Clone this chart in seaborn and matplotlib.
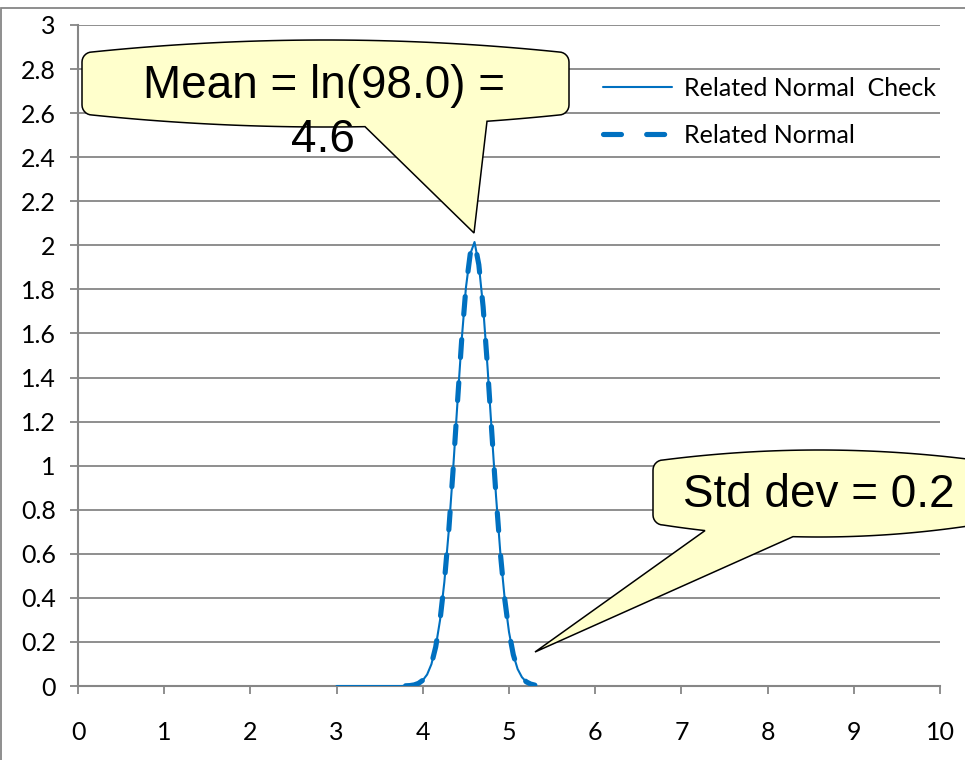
import numpy as np
import pandas as pd
import matplotlib
matplotlib.use("Agg")
import matplotlib.pyplot as plt
from matplotlib.patches import Polygon, Rectangle
import seaborn as sns

# ---- data ----
x_check = [3.0, 3.25, 3.5, 3.75, 3.80, 3.85, 3.90, 3.95, 4.00, 4.05, 4.10, 4.15, 4.20, 4.25,
           4.30, 4.35, 4.40, 4.45, 4.50, 4.55, 4.60, 4.65, 4.70, 4.75, 4.80, 4.85,
           4.90, 4.95, 5.00, 5.05, 5.10, 5.15, 5.20, 5.25, 5.30]
y_check = [0.0, 0.0, 0.0, 0.0, 0.001, 0.002, 0.005, 0.012, 0.026, 0.052, 0.099, 0.178, 0.299, 0.472,
           0.699, 0.973, 1.274, 1.565, 1.807, 1.960, 2.015, 1.912, 1.720, 1.452, 1.153, 0.859,
           0.602, 0.396, 0.245, 0.142, 0.077, 0.040, 0.019, 0.009, 0.004]
x_related = [3.80, 3.85, 3.90, 3.95, 4.00, 4.05, 4.10, 4.15, 4.20, 4.25,
             4.30, 4.35, 4.40, 4.45, 4.50, 4.55, 4.60, 4.65, 4.70, 4.75, 4.80, 4.85,
             4.90, 4.95, 5.00, 5.05, 5.10, 5.15, 5.20, 5.25, 5.30]
y_related = [0.001, 0.002, 0.005, 0.012, 0.026, 0.052, 0.099, 0.178, 0.299, 0.472,
             0.699, 0.973, 1.274, 1.565, 1.807, 1.960, 2.015, 1.912, 1.720, 1.452, 1.153, 0.859,
             0.602, 0.396, 0.245, 0.142, 0.077, 0.040, 0.019, 0.009, 0.004]
series_names = ["Related Normal  Check", "Related Normal"]
x_ticks = [0, 1, 2, 3, 4, 5, 6, 7, 8, 9, 10]
y_ticks = [0, 0.2, 0.4, 0.6, 0.8, 1, 1.2, 1.4, 1.6, 1.8, 2, 2.2, 2.4, 2.6, 2.8, 3]
mean_text = ["Mean = ln(98.0) =", "4.6"]
std_text = "Std dev = 0.2"

# ---- style ----
sns.set_theme(style="white")
plt.rcParams["font.family"] = ["Lato", "DejaVu Sans"]
plt.rcParams["text.color"] = "black"

W, H = 965, 760
fig = plt.figure(figsize=(W / 100, H / 100), dpi=100)
L, R, B, T = 78, 940, 686, 25
ax = fig.add_axes([L / W, (H - B) / H, (R - L) / W, (B - T) / H])

GRAY = "#868686"
BLUE = "#0070C0"

df_check = pd.DataFrame({"x": x_check, "y": y_check})
df_rel = pd.DataFrame({"x": x_related, "y": y_related})

sns.lineplot(data=df_check, x="x", y="y", ax=ax, color=BLUE, linewidth=1.5,
             label=series_names[0], sort=False, estimator=None, zorder=3)
sns.lineplot(data=df_rel, x="x", y="y", ax=ax, color=BLUE, linewidth=3.7,
             label=series_names[1], sort=False, estimator=None, zorder=4)
dl = ax.get_lines()[1]
dl.set_linestyle((0, (3.5, 4.9)))
dl.set_dash_capstyle("round")

ax.set_xlim(0, 10)
ax.set_ylim(0, 3)
ax.set_xticks(x_ticks)
ax.set_xticklabels([f"{v:g}" for v in x_ticks])
ax.set_yticks(y_ticks)
ax.set_yticklabels([f"{v:g}" for v in y_ticks])
ax.set_xlabel("")
ax.set_ylabel("")
ax.yaxis.grid(True, color=GRAY, linewidth=1.3)
ax.xaxis.grid(False)
ax.set_axisbelow(True)
for s in ["top", "right"]:
    ax.spines[s].set_visible(False)
for s in ["left", "bottom"]:
    ax.spines[s].set_color(GRAY)
    ax.spines[s].set_linewidth(1.5)
ax.tick_params(axis="both", which="major", direction="out", length=6, width=1.3,
               color=GRAY, labelsize=18, labelcolor="black")
ax.tick_params(axis="x", pad=19, bottom=True)
ax.tick_params(axis="y", pad=10, left=True)

leg = ax.legend(loc="upper left", bbox_to_anchor=(603 / W, (H - 77) / H),
                bbox_transform=fig.transFigure, frameon=False, fontsize=18,
                handlelength=2.75, handletextpad=0.47, labelspacing=0.95,
                borderpad=0, borderaxespad=0)
for t in leg.get_texts():
    t.set_color("black")
for h in leg.legend_handles:
    h.set_dash_capstyle("round")

# chart-area border
fig.add_artist(Rectangle((1 / W, -0.1), 1.2, (H - 8) / H + 0.1,
                         transform=fig.transFigure, fill=False, edgecolor=GRAY,
                         linewidth=1.3, zorder=0))


# ---- callouts (shape geometry in image pixel coordinates) ----
def callout(left, right, top_edge, top_mid, bot_edge, bot_mid, p1, p2, tip, r=10):
    pts = []
    cxm = (left + right) / 2
    half = (right - left) / 2 - r

    def par(x, ye, ym):
        t = (x - cxm) / half
        return ym + (ye - ym) * t * t

    for a in np.linspace(180, 90, 8):
        pts.append((left + r + r * np.cos(np.radians(a)), top_edge + r - r * np.sin(np.radians(a))))
    for x in np.linspace(left + r, right - r, 40):
        pts.append((x, par(x, top_edge, top_mid)))
    for a in np.linspace(90, 0, 8):
        pts.append((right - r + r * np.cos(np.radians(a)), top_edge + r - r * np.sin(np.radians(a))))
    for a in np.linspace(0, -90, 8):
        pts.append((right - r + r * np.cos(np.radians(a)), bot_edge - r - r * np.sin(np.radians(a))))
    xs = np.linspace(right - r, left + r, 60)
    inserted = False
    for x in xs:
        if p1 < x < p2:
            if not inserted:
                pts.append((p2, par(p2, bot_edge, bot_mid)))
                pts.append(tip)
                pts.append((p1, par(p1, bot_edge, bot_mid)))
                inserted = True
            continue
        pts.append((x, par(x, bot_edge, bot_mid)))
    for a in np.linspace(-90, -180, 8):
        pts.append((left + r + r * np.cos(np.radians(a)), bot_edge - r - r * np.sin(np.radians(a))))
    fpts = [(px / W, (H - py) / H) for px, py in pts]
    poly = Polygon(fpts, closed=True, transform=fig.transFigure, facecolor="#FFFFCC",
                   edgecolor="black", linewidth=1.1, zorder=5)
    fig.add_artist(poly)


callout(82, 569, 52, 40, 115, 127, 365, 487, (474, 233))
callout(653, 985, 460, 450, 525, 537, 705, 793, (535, 652))

TF = dict(family=["Liberation Sans", "DejaVu Sans"], fontsize=33, color="black",
          ha="center", va="baseline", zorder=6)
fig.text(324 / W, (H - 98) / H, mean_text[0], **TF)
fig.text(323 / W, (H - 152) / H, mean_text[1], **TF)
fig.text(819 / W, (H - 507) / H, std_text, **TF)

fig.savefig("out.png", dpi=100)
